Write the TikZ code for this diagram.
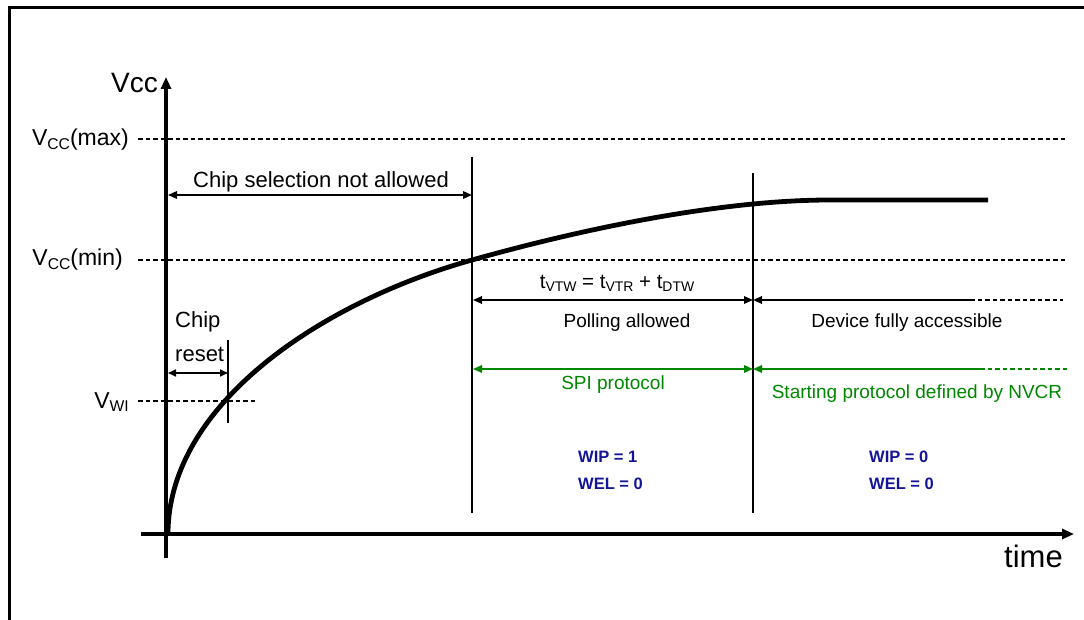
\documentclass[tikz,border=0pt]{standalone}
\usepackage{fontspec}
\setmainfont{Liberation Sans}
\usetikzlibrary{arrows.meta}
\definecolor{sgreen}{RGB}{0,135,0}
\definecolor{sblue}{RGB}{20,20,150}
\newcommand{\sbs}[1]{\raisebox{-0.32ex}{\scalebox{0.68}{#1}}}
\begin{document}
\begin{tikzpicture}[x=1pt,y=-1pt,
  >={Triangle[length=9pt,width=7.5pt]},
  thinln/.style={line width=1.6pt},
  dashln/.style={line width=1.6pt,dash pattern=on 4.5pt off 3pt},
  axis/.style={line width=4.3pt},
  big/.style={font=\fontsize{28}{32}\selectfont, inner sep=0pt},
  lvl/.style={font=\fontsize{23}{26}\selectfont, inner sep=0pt, anchor=base east},
  med/.style={font=\fontsize{22}{25}\selectfont, inner sep=0pt},
  sml/.style={font=\fontsize{19}{22}\selectfont, inner sep=0pt},
  flag/.style={font=\fontsize{16.5}{19}\selectfont\bfseries, text=sblue, inner sep=0pt, anchor=base west}
]
\useasboundingbox (0,0) rectangle (1084,620);
% frame
\draw[line width=3pt] (9,625) -- (9,8) -- (1090,8);

% axes
\coordinate (ybot) at (166,558);
\coordinate (ytop) at (166,77);
\coordinate (xl) at (141,534);
\coordinate (xr) at (1074,534);
\draw[axis,-{Triangle[length=12pt,width=10pt]}] (ybot) -- (ytop);
\draw[axis,-{Triangle[length=12pt,width=10pt]}] (xl) -- (xr);
\node[big,anchor=base west] (vcc) at (111,93) {Vcc};
\node[big,anchor=base west,font=\fontsize{31}{34}\selectfont] (time) at (1004,567) {time};

% level lines
\node[lvl] (vmax) at (129,146) {V\sbs{CC}(max)};
\node[lvl] (vmin) at (123,266) {V\sbs{CC}(min)};
\node[lvl] (vwi) at (129,408) {V\sbs{WI}};
\coordinate (vmaxr) at (1065,139);
\coordinate (vminr) at (1065,260);
\coordinate (vwir) at (258,401);
\draw[dashln] (138,139) -- (vmaxr);
\draw[dashln] (138,260) -- (vminr);
\draw[dashln] (138,401) -- (vwir);

% curve
\coordinate (c0) at (168,534);
\coordinate (c1) at (472,260);
\coordinate (c2) at (830,200);
\coordinate (c3) at (988,200);
\draw[line width=4.8pt,line cap=butt] (c0) .. controls (168,404) and (322,302) .. (c1)
  .. controls (582,229) and (720,200) .. (c2) -- (c3);

% vertical markers
\coordinate (m1t) at (472,157); \coordinate (m1b) at (472,513);
\coordinate (m2t) at (753,173); \coordinate (m2b) at (753,513);
\coordinate (rt) at (228,340); \coordinate (rb) at (228,423);
\draw[thinln] (m1t) -- (m1b);
\draw[thinln] (m2t) -- (m2b);
\draw[thinln] (rt) -- (rb);

% chip reset
\node[med,anchor=base west] (chip) at (175,327) {Chip};
\node[med,anchor=base west] (reset) at (175,361) {reset};
\draw[thinln,{Triangle[length=8pt,width=7pt]}-{Triangle[length=8pt,width=7pt]}] (168,373) -- (228,373);

% chip selection
\node[med,anchor=base] (csel) at (321,188) {Chip selection not allowed};
\draw[thinln,<->] (168,195) -- (472,195);

% tVTW
\node[med,anchor=base,font=\fontsize{20.5}{24}\selectfont] (tvtw) at (617,288) {t\sbs{VTW} = t\sbs{VTR} + t\sbs{DTW}};
\draw[thinln,<->] (473,300) -- (753,300);
\draw[thinln,<-] (753,300) -- (970,300);
\draw[dashln] (970,300) -- (1063,300);
\node[sml,anchor=base] (poll) at (627,327) {Polling allowed};
\node[sml,anchor=base] (dev) at (907,327) {Device fully accessible};

% green protocol
\draw[thinln,sgreen,<->] (473,369) -- (753,369);
\draw[thinln,sgreen,<-] (753,369) -- (980,369);
\draw[dashln,sgreen] (980,369) -- (1067,369);
\node[sml,anchor=base,text=sgreen] (spi) at (613,389) {SPI protocol};
\node[sml,anchor=base,text=sgreen] (nvcr) at (917,398) {Starting protocol defined by NVCR};

% status bits
\node[flag] (wip1) at (578,462) {WIP = 1};
\node[flag] (wel1) at (578,489) {WEL = 0};
\node[flag] (wip0) at (869,462) {WIP = 0};
\node[flag] (wel0) at (869,489) {WEL = 0};
\end{tikzpicture}
\end{document}
